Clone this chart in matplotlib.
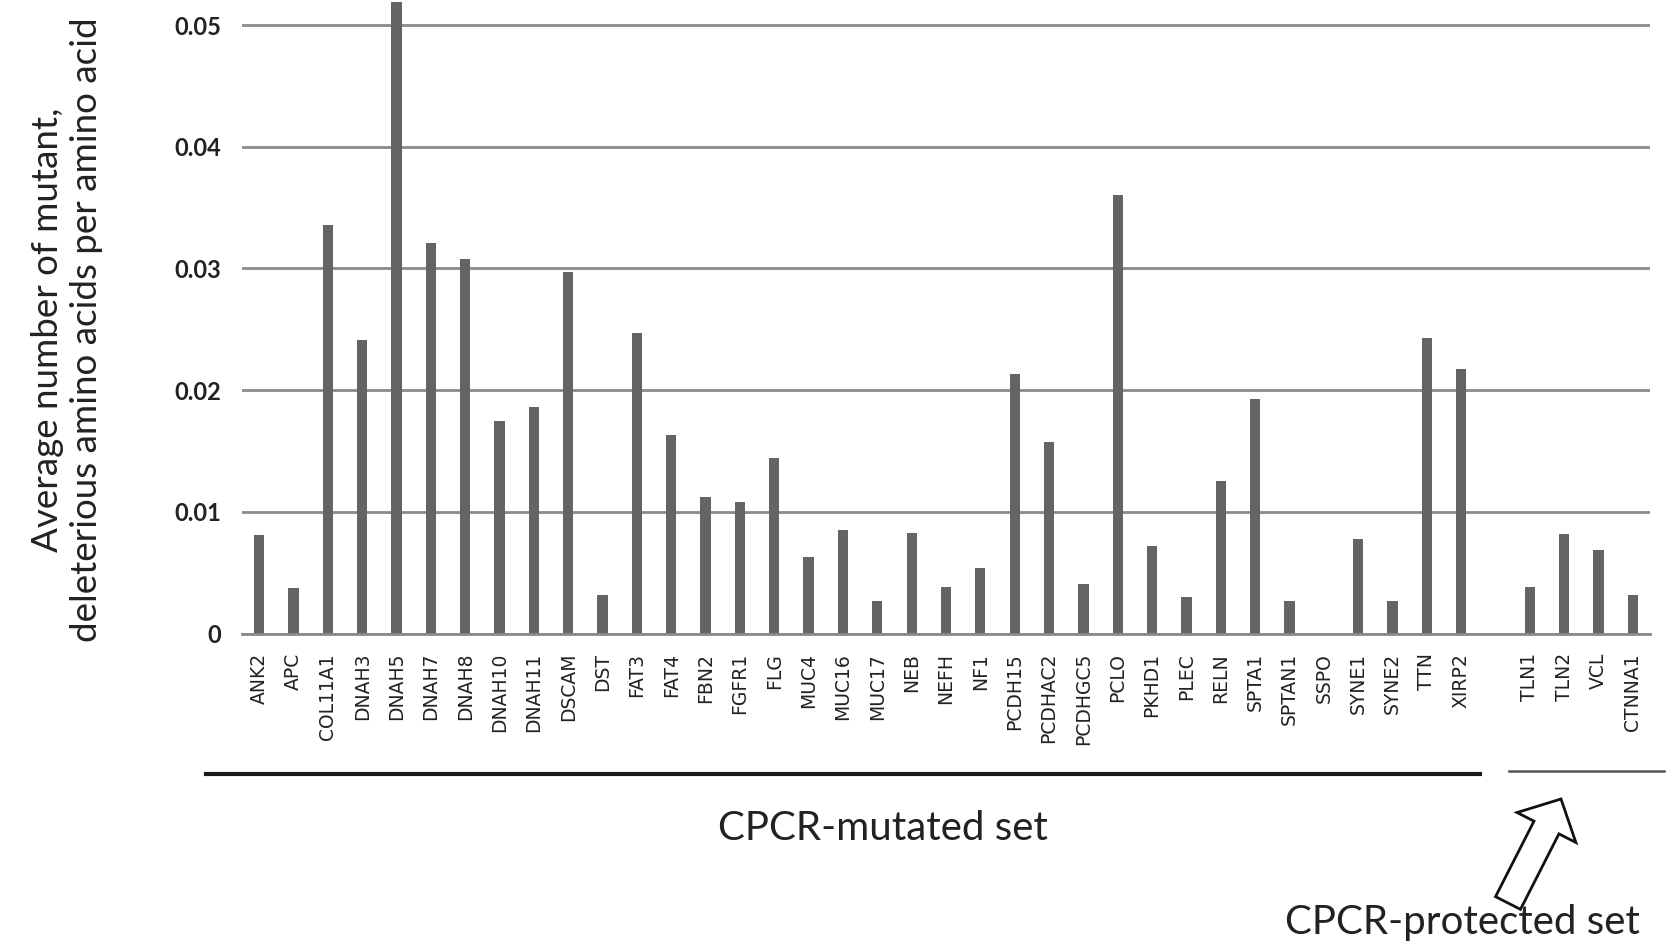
import matplotlib
matplotlib.use("Agg")
import matplotlib.pyplot as plt
from matplotlib.patches import FancyArrow
from matplotlib.transforms import IdentityTransform
import numpy as np

# genes and values
mutated_genes = ["ANK2", "APC", "COL11A1", "DNAH3", "DNAH5", "DNAH7", "DNAH8", "DNAH10",
                 "DNAH11", "DSCAM", "DST", "FAT3", "FAT4", "FBN2", "FGFR1", "FLG", "MUC4",
                 "MUC16", "MUC17", "NEB", "NEFH", "NF1", "PCDH15", "PCDHAC2", "PCDHGC5",
                 "PCLO", "PKHD1", "PLEC", "RELN", "SPTA1", "SPTAN1", "SSPO", "SYNE1",
                 "SYNE2", "TTN", "XIRP2"]
mutated_values = [0.0081, 0.00375, 0.0336, 0.0241, 0.0519, 0.0321, 0.0308, 0.0175,
                  0.0186, 0.0297, 0.00315, 0.0247, 0.0163, 0.0112, 0.0108, 0.0144, 0.0063,
                  0.0085, 0.0027, 0.0083, 0.0038, 0.0054, 0.0213, 0.0157, 0.0041,
                  0.0360, 0.0072, 0.0030, 0.0125, 0.0193, 0.0027, 0.0, 0.0078,
                  0.0027, 0.0243, 0.0217]
protected_genes = ["TLN1", "TLN2", "VCL", "CTNNA1"]
protected_values = [0.00385, 0.0082, 0.0069, 0.00315]
yticks = [0, 0.01, 0.02, 0.03, 0.04, 0.05]
ytick_labels = ["0", "0.01", "0.02", "0.03", "0.04", "0.05"]

W, H = 1677, 947
fig = plt.figure(figsize=(W / 100, H / 100), dpi=100)
ax = fig.add_axes([242 / W, 0.331, (1650 - 242) / W, 0.6682])

n_mut = len(mutated_genes)
x_mut = np.arange(n_mut)
x_prot = np.arange(len(protected_genes)) + n_mut + 1

bar_color = "#646464"
ax.bar(x_mut, mutated_values, width=0.3, color=bar_color)
ax.bar(x_prot, protected_values, width=0.3, color=bar_color)

ax.set_xlim(-0.5, n_mut + len(protected_genes) + 0.5)
ax.set_ylim(0, 0.052)
ax.set_yticks(yticks)
ax.set_yticklabels(ytick_labels, fontfamily="Lato", fontweight="bold", fontsize=17,
                   color="#222222")
ax.set_xticks(list(x_mut) + list(x_prot))
ax.set_xticklabels(mutated_genes + protected_genes, rotation=90, fontsize=13.5,
                   fontfamily="DejaVu Sans", color="#222222", va="top")
ax.tick_params(axis="both", length=0)
ax.tick_params(axis="y", pad=15)
ax.tick_params(axis="x", pad=14)

ax.grid(axis="y", color="#8a8a8a", linewidth=2)
ax.set_axisbelow(True)
for s in ["top", "right", "left"]:
    ax.spines[s].set_visible(False)
ax.spines["bottom"].set_color("#8a8a8a")
ax.spines["bottom"].set_linewidth(2)

fig.text(48 / W, 1 - 330 / H, "Average number of mutant,", rotation=90,
         ha="center", va="center", fontsize=26.5, fontfamily="Lato", color="#222222")
fig.text(87 / W, 1 - 330 / H, "deleterious amino acids per amino acid", rotation=90,
         ha="center", va="center", fontsize=26.5, fontfamily="Lato", color="#222222")

# group brackets under the labels
fig.add_artist(plt.Line2D([206 / W, 1480 / W], [1 - 774 / H, 1 - 774 / H],
                          color="#1a1a1a", linewidth=3))
fig.add_artist(plt.Line2D([1509 / W, 1664 / W], [1 - 771 / H, 1 - 771 / H],
                          color="#555555", linewidth=1.8))

fig.text(883 / W, 1 - 828 / H, "CPCR-mutated set", ha="center", va="center",
         fontsize=29, fontfamily="Lato", color="#222222")
fig.text(1462 / W, 1 - 922 / H, "CPCR-protected set", ha="center", va="center",
         fontsize=29, fontfamily="Lato", color="#222222")

arrow = FancyArrow(1508, H - 903, 53, 104, width=28, head_width=66, head_length=32,
                   length_includes_head=True, facecolor="white", edgecolor="#111111",
                   linewidth=2, transform=IdentityTransform())
fig.add_artist(arrow)

fig.savefig("out.png", dpi=100)
